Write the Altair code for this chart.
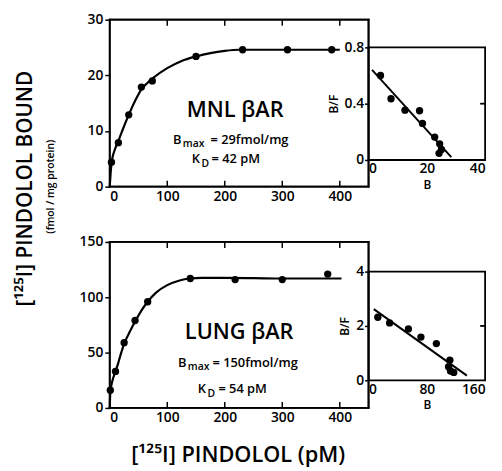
import altair as alt
import pandas as pd

FONT = "Open Sans"
W = 600

# ---- MNL beta-AR saturation (top) ----
mnl_conc = [3, 15, 33, 55, 74, 150, 231, 309, 386]
mnl_bound = [4.4, 7.9, 12.9, 17.9, 19.0, 23.4, 24.6, 24.6, 24.6]
mnl_curve_conc = [0, 2, 4, 8, 15, 25, 33, 45, 55, 65, 75, 100, 125, 150, 175, 200, 225, 250, 300, 350, 400]
mnl_curve_bound = [0, 3.0, 4.8, 6.4, 8.2, 10.9, 12.9, 15.6, 17.5, 18.6, 19.5, 21.3, 22.6, 23.4, 24.0, 24.4, 24.6, 24.6, 24.6, 24.6, 24.6]
# MNL Scatchard (inset)
mnl_B = [4.1, 7.7, 12.5, 17.5, 18.5, 22.7, 24.4, 25.0, 24.2]
mnl_BF = [0.60, 0.435, 0.354, 0.35, 0.26, 0.163, 0.115, 0.075, 0.047]
mnl_fit_B = [1.2, 28.4]
mnl_fit_BF = [0.64, 0.02]

# ---- Lung beta-AR saturation (bottom) ----
lung_conc = [1, 10, 25, 44, 66, 140, 218, 300, 379]
lung_bound = [16, 33, 59, 79, 96, 117, 116, 116, 121]
lung_curve_conc = [0, 1, 3, 6, 10, 15, 20, 25, 35, 45, 55, 66, 80, 100, 120, 140, 160, 200, 250, 300, 350, 403]
lung_curve_bound = [0, 14, 21, 27, 33, 41, 50, 58, 69, 79, 88, 96, 104, 111, 115, 117, 117.5, 117.5, 117.3, 117, 117, 117]
# Lung Scatchard (inset)
lung_B = [12.7, 28.9, 54.7, 71.9, 93.1, 111.6, 109.8, 112.5, 117]
lung_BF = [2.32, 2.11, 1.89, 1.59, 1.35, 0.74, 0.50, 0.34, 0.29]
lung_fit_B = [7.2, 135]
lung_fit_BF = [2.62, 0.17]

# axis domains and tick values
main_x_dom = [0, 450]
main_x_ticks = [0, 100, 200, 300, 400]
mnl_y_dom = [0, 30]
mnl_y_ticks = [0, 10, 20, 30]
lung_y_dom = [0, 150]
lung_y_ticks = [0, 50, 100, 150]
mnl_in_x_dom = [0, 40]
mnl_in_x_ticks = [0, 20, 40]
mnl_in_y_dom = [0, 0.8]
mnl_in_y_ticks = [0, 0.4, 0.8]
lung_in_x_dom = [0, 160]
lung_in_x_ticks = [0, 80, 160]
lung_in_y_dom = [0, 4]
lung_in_y_ticks = [0, 2, 4]

PW, PH = 262, 393
LW = 1.8
TICK_PX = 6


def axis(values, orient, offset, title=None, fmt=None, tick=0, pad=2, labels=True):
    kw = dict(orient=orient, offset=offset, domain=False, grid=False, zindex=1,
              ticks=tick > 0, tickSize=max(tick, 1), tickWidth=1.5, tickColor="black",
              labels=labels, labelFont=FONT, labelFontSize=14, labelFontWeight=W, labelColor="black",
              labelPadding=pad, titleFont=FONT, titleFontWeight=W, titleColor="black",
              titleFontSize=12, titlePadding=4)
    if values is not None:
        kw["values"] = values
    kw["title"] = title if title else None
    if fmt:
        kw["format"] = fmt
    return alt.Axis(**kw)


def txt(s, x, y, size, angle=0, align="left", baseline="alphabetic"):
    return alt.Chart(alt.Data(values=[{}])).mark_text(
        text=s, fontSize=size, font=FONT, fontWeight=W, align=align,
        baseline=baseline, angle=angle, color="black"
    ).encode(x=alt.value(x), y=alt.value(y))


def box_lines(tag, xs, ys, xdom, ydom, xpix, yinner_right):
    """Inset outline plus inward tick segments, drawn through the inset's scales."""
    x0, x1 = xdom
    y0, y1 = ydom
    rows = []
    for i, (xx, yy) in enumerate([(x0, y0), (x1, y0), (x1, y1), (x0, y1), (x0, y0)]):
        rows.append({"seg": tag + "box", "o": i, tag + "x": xx, tag + "y": yy})
    dx = (x1 - x0) * (TICK_PX - 1) / xpix
    for t in yinner_right:
        for k, (xx, yy) in enumerate([(x1, t), (x1 - dx, t)]):
            rows.append({"seg": f"{tag}r{t}", "o": k, tag + "x": xx, tag + "y": yy})
    return alt.Chart(pd.DataFrame(rows)).mark_line(
        color="black", strokeWidth=LW, strokeJoin="miter"
    ).encode(
        x=alt.X(f"{tag}x:Q", scale=xs, axis=None),
        y=alt.Y(f"{tag}y:Q", scale=ys, axis=None),
        detail="seg:N", order="o:Q",
    )


def edge(x0, x1, y0, y1):
    return alt.Chart(alt.Data(values=[{}])).mark_rect(color="black", opacity=1).encode(
        x=alt.value(x0), x2=alt.value(x1), y=alt.value(y0), y2=alt.value(y1))


def main_frame(tag, xs, ytop, ybot):
    """Main panel outline and inward ticks at the x tick values."""
    h = LW / 2
    frame = alt.Chart(alt.Data(values=[{}])).mark_rect(
        filled=False, fill=None, stroke="black", strokeWidth=LW
    ).encode(x=alt.value(0), x2=alt.value(PW), y=alt.value(ytop), y2=alt.value(ybot))
    edges = [edge(-h, h, ytop - h, ybot + h), edge(PW - h, PW + h, ytop - h, ybot + h),
             edge(-h, PW + h, ytop - h, ytop + h), edge(-h, PW + h, ybot - h, ybot + h)]
    tdata = pd.DataFrame({tag + "t": main_x_ticks[1:]})
    bot = alt.Chart(tdata).mark_rule(color="black", strokeWidth=1.5).encode(
        x=alt.X(f"{tag}t:Q", scale=xs, axis=None),
        y=alt.value(ybot), y2=alt.value(ybot - TICK_PX))
    top = alt.Chart(tdata).mark_rule(color="black", strokeWidth=1.5).encode(
        x=alt.X(f"{tag}t:Q", scale=xs, axis=None),
        y=alt.value(ytop), y2=alt.value(ytop + TICK_PX))
    return [frame] + edges + [bot, top]


def main_panel(tag, conc, bound, cconc, cbound, ydom, yticks, ytop, ybot):
    xs = alt.Scale(domain=main_x_dom, range=[0, PW], nice=False, zero=False)
    ys = alt.Scale(domain=ydom, range=[ybot, ytop], nice=False, zero=False)
    pts = alt.Chart(pd.DataFrame({tag + "c": conc, tag + "b": bound})).mark_circle(
        size=55, color="black", opacity=1).encode(
        x=alt.X(f"{tag}c:Q", scale=xs, axis=axis(main_x_ticks, "bottom", ybot - PH, pad=3)),
        y=alt.Y(f"{tag}b:Q", scale=ys, axis=axis(yticks, "left", 0, tick=5, pad=2)),
    )
    curve = alt.Chart(pd.DataFrame({tag + "cc": cconc, tag + "cb": cbound})).mark_line(
        color="black", strokeWidth=2.2, interpolate="monotone").encode(
        x=alt.X(f"{tag}cc:Q", scale=xs, axis=None), y=alt.Y(f"{tag}cb:Q", scale=ys, axis=None))
    return [curve, pts], main_frame(tag + "f", xs, ytop, ybot)


def inset_panel(tag, B, BF, fB, fBF, xdom, ydom, xticks, yticks, yrange, xoffset):
    xs = alt.Scale(domain=xdom, range=[PW, 380], nice=False, zero=False)
    ys = alt.Scale(domain=ydom, range=yrange, nice=False, zero=False)
    pts = alt.Chart(pd.DataFrame({tag + "b": B, tag + "bf": BF})).mark_circle(
        size=55, color="black", opacity=1).encode(
        x=alt.X(f"{tag}b:Q", scale=xs, axis=axis(xticks, "bottom", xoffset, title="B", pad=2)),
        y=alt.Y(f"{tag}bf:Q", scale=ys, axis=axis(yticks, "left", -PW, title="B/F", fmt="~g", tick=4, pad=1)),
    )
    fit = alt.Chart(pd.DataFrame({tag + "fb": fB, tag + "fbf": fBF})).mark_line(
        color="black", strokeWidth=2).encode(
        x=alt.X(f"{tag}fb:Q", scale=xs, axis=None), y=alt.Y(f"{tag}fbf:Q", scale=ys, axis=None))
    box = box_lines(tag + "f", xs, ys, xdom, ydom, 380 - PW, yticks[1:2])
    return [fit, pts], [box]


m1, m1box = main_panel("m1", mnl_conc, mnl_bound, mnl_curve_conc, mnl_curve_bound,
                       mnl_y_dom, mnl_y_ticks, 0, 169)
i1, i1box = inset_panel("i1", mnl_B, mnl_BF, mnl_fit_B, mnl_fit_BF, mnl_in_x_dom, mnl_in_y_dom,
                        mnl_in_x_ticks, mnl_in_y_ticks, [142, 28], 142 - PH)
m2, m2box = main_panel("m2", lung_conc, lung_bound, lung_curve_conc, lung_curve_bound,
                       lung_y_dom, lung_y_ticks, 225, PH)
i2, i2box = inset_panel("i2", lung_B, lung_BF, lung_fit_B, lung_fit_BF, lung_in_x_dom, lung_in_y_dom,
                        lung_in_x_ticks, lung_in_y_ticks, [365, 255], 365 - PH)

texts = [
    txt("MNL βAR", 127, 98, 22, align="center"),
    txt("B", 64, 126, 13), txt("max", 74, 129, 10.5), txt("= 29fmol/mg", 102, 126, 13),
    txt("K", 83, 145, 13), txt("D", 93, 149, 10.5), txt("= 42 pM", 103, 145, 13),
    txt("LUNG βAR", 131, 323, 22, align="center"),
    txt("B", 69, 352, 13), txt("max", 79, 355, 10.5), txt("= 150fmol/mg", 104, 352, 13),
    txt("K", 89, 378, 13), txt("D", 99, 382, 10.5), txt("= 54 pM", 110, 378, 13),
    txt("[¹²⁵I] PINDOLOL BOUND", -85, 171, 21, angle=270, align="center", baseline="middle"),
    txt("(fmol / mg protein)", -59, 169, 10.5, angle=270, align="center", baseline="middle"),
    txt("[¹²⁵I] PINDOLOL (pM)", 130, 448, 22, align="center"),
]

layers = m1 + i1 + m2 + i2 + texts + m1box + i1box + m2box + i2box

chart = alt.layer(*layers).resolve_scale(
    x="independent", y="independent"
).properties(
    width=PW, height=PH,
    autosize=alt.AutoSizeParams(type="none"),
    padding={"left": 103, "top": 9, "right": 127, "bottom": 62},
    background="white",
).configure_view(stroke=None)

chart.save("out.html", embed_options={"renderer": "svg", "actions": False})
